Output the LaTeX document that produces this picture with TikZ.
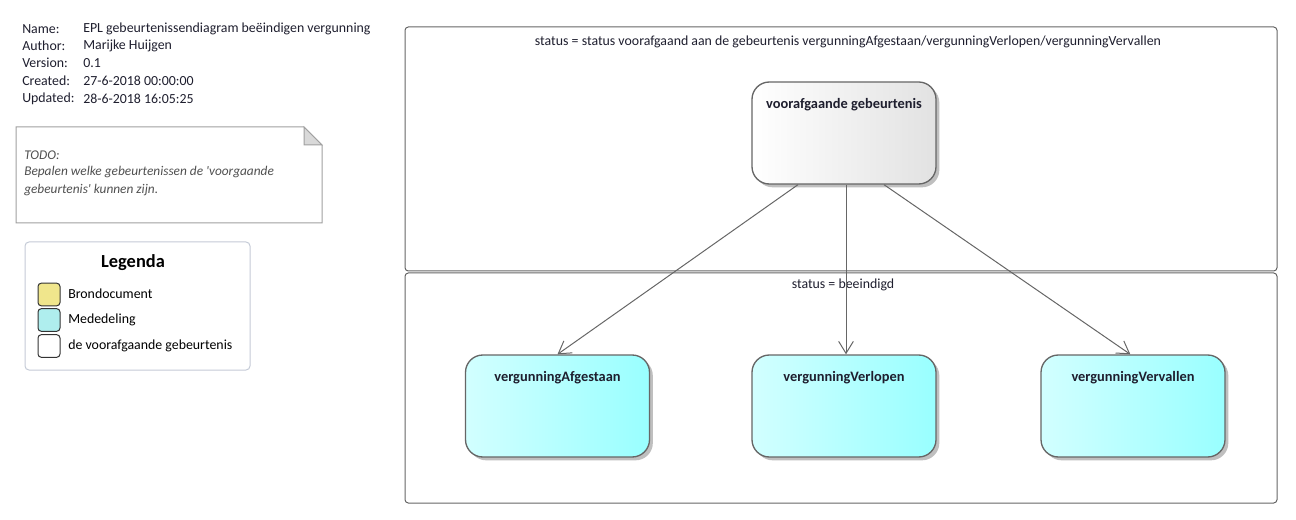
\documentclass[tikz,border=0pt]{standalone}
\usepackage{fontspec}
\setmainfont{Carlito}
\usetikzlibrary{arrows.meta, shadows}
\definecolor{edgegray}{HTML}{666666}
\definecolor{notegray}{HTML}{A0A0A0}
\definecolor{notetext}{HTML}{505050}
\definecolor{legendline}{HTML}{C4CAD6}
\definecolor{docyellow}{HTML}{F0E68C}
\definecolor{msgcyan}{HTML}{AFEEEE}
\definecolor{cyanleft}{HTML}{D2FFFF}
\definecolor{cyanright}{HTML}{99FFFF}
\definecolor{grayright}{HTML}{E2E2E2}
\definecolor{txt}{HTML}{1E1E2E}

\tikzset{
    txtnode/.style={anchor=west, inner sep=0pt, text=txt, font=\fontsize{10.4}{12}\selectfont},
    frame/.style={draw=edgegray, line width=0.75pt, rounded corners=2.5pt, minimum width=654pt, inner sep=0pt},
    event/.style={draw=edgegray, line width=1pt, rounded corners=13pt, minimum width=138pt, minimum height=76.5pt,
        drop shadow={shadow xshift=2.5pt, shadow yshift=-2.5pt, fill=black!25, opacity=1}},
    prior/.style={event, left color=white, right color=grayright},
    notice/.style={event, left color=cyanleft, right color=cyanright},
    evlabel/.style={anchor=north, inner sep=0pt, text=txt, font=\fontsize{10.8}{12}\selectfont\bfseries},
    swatch/.style={draw=black!80, line width=0.75pt, rounded corners=2.5pt, minimum width=16.5pt, minimum height=17pt, inner sep=0pt},
    transition/.style={draw=edgegray, line width=0.75pt, -{Straight Barb[length=9pt, width=11pt]}}
}

\begin{document}
\begin{tikzpicture}[x=0.75pt, y=-0.75pt]
    \useasboundingbox (0,0) rectangle (1296,520);

    % diagram info
    \node[txtnode] (lname) at (22,29) {Name:};
    \node[txtnode] (lauthor) at (22,46) {Author:};
    \node[txtnode] (lversion) at (22,63) {Version:};
    \node[txtnode] (lcreated) at (22,81) {Created:};
    \node[txtnode] (lupdated) at (22,99) {Updated:};
    \node[txtnode] (vname) at (83,29) {EPL gebeurtenissendiagram beëindigen vergunning};
    \node[txtnode] (vauthor) at (83,46) {Marijke Huijgen};
    \node[txtnode] (vversion) at (83,63) {0.1};
    \node[txtnode] (vcreated) at (83,81) {27-6-2018 00:00:00};
    \node[txtnode] (vupdated) at (83,99) {28-6-2018 16:05:25};

    % note
    \draw[notegray, line width=0.75pt, fill=white] (16,127) -- (304,127) -- (322,145) -- (322,223) -- (16,223) -- cycle;
    \draw[notegray, line width=0.75pt, fill=black!15] (304,127) -- (304,145) -- (322,145) -- cycle;
    \node[txtnode, text=notetext, font=\fontsize{10}{11}\selectfont\itshape] (todo) at (24,155) {TODO:};
    \node[txtnode, text=notetext, font=\fontsize{10}{11}\selectfont\itshape] (todo1) at (24,172) {Bepalen welke gebeurtenissen de \textquotesingle voorgaande};
    \node[txtnode, text=notetext, font=\fontsize{10}{11}\selectfont\itshape] (todo2) at (24,190) {gebeurtenis\textquotesingle{} kunnen zijn.};

    % legend
    \draw[legendline, line width=0.75pt, rounded corners=3pt] (25,242) rectangle (250,370);
    \node[txtnode, anchor=center, text=black, font=\fontsize{13.8}{15}\selectfont\bfseries] (legenda) at (133,263) {Legenda};
    \node[swatch, fill=docyellow] (sdoc) at (49,294.5) {};
    \node[swatch, fill=msgcyan] (smsg) at (49,320) {};
    \node[swatch, fill=white] (sprior) at (49,346) {};
    \node[txtnode, text=black] (ldoc) at (68,294) {Brondocument};
    \node[txtnode, text=black] (lmsg) at (68,320) {Mededeling};
    \node[txtnode, text=black] (lprior) at (68,346) {de voorafgaande gebeurtenis};

    % partitions
    \node[frame, minimum height=183pt] (before) at (841,149) {};
    \node[frame, minimum height=172.5pt] (after) at (841,388) {};
    \node[txtnode, anchor=center] (beforelabel) at (848,42) {status = status voorafgaand aan de gebeurtenis vergunningAfgestaan/vergunningVerlopen/vergunningVervallen};
    \node[txtnode, anchor=center] (afterlabel) at (843,285) {status = beeindigd};

    % events
    \node[prior] (voor) at (844,133) {};
    \node[notice] (afgestaan) at (557.5,406) {};
    \node[notice] (verlopen) at (844,406) {};
    \node[notice] (vervallen) at (1133,406) {};
    \node[evlabel] at ([yshift=-12.5pt]voor.north) {voorafgaande gebeurtenis};
    \node[evlabel] at ([yshift=-12.5pt]afgestaan.north) {vergunningAfgestaan};
    \node[evlabel] at ([yshift=-12.5pt]verlopen.north) {vergunningVerlopen};
    \node[evlabel] at ([yshift=-12.5pt]vervallen.north) {vergunningVervallen};

    % transitions
    \draw[transition] ([xshift=-34.5pt]voor.south) -- (afgestaan.north);
    \draw[transition] ([xshift=1.5pt]voor.south) -- ([xshift=1.5pt]verlopen.north);
    \draw[transition] ([xshift=30pt]voor.south) -- ([xshift=-2pt]vervallen.north);
\end{tikzpicture}
\end{document}
